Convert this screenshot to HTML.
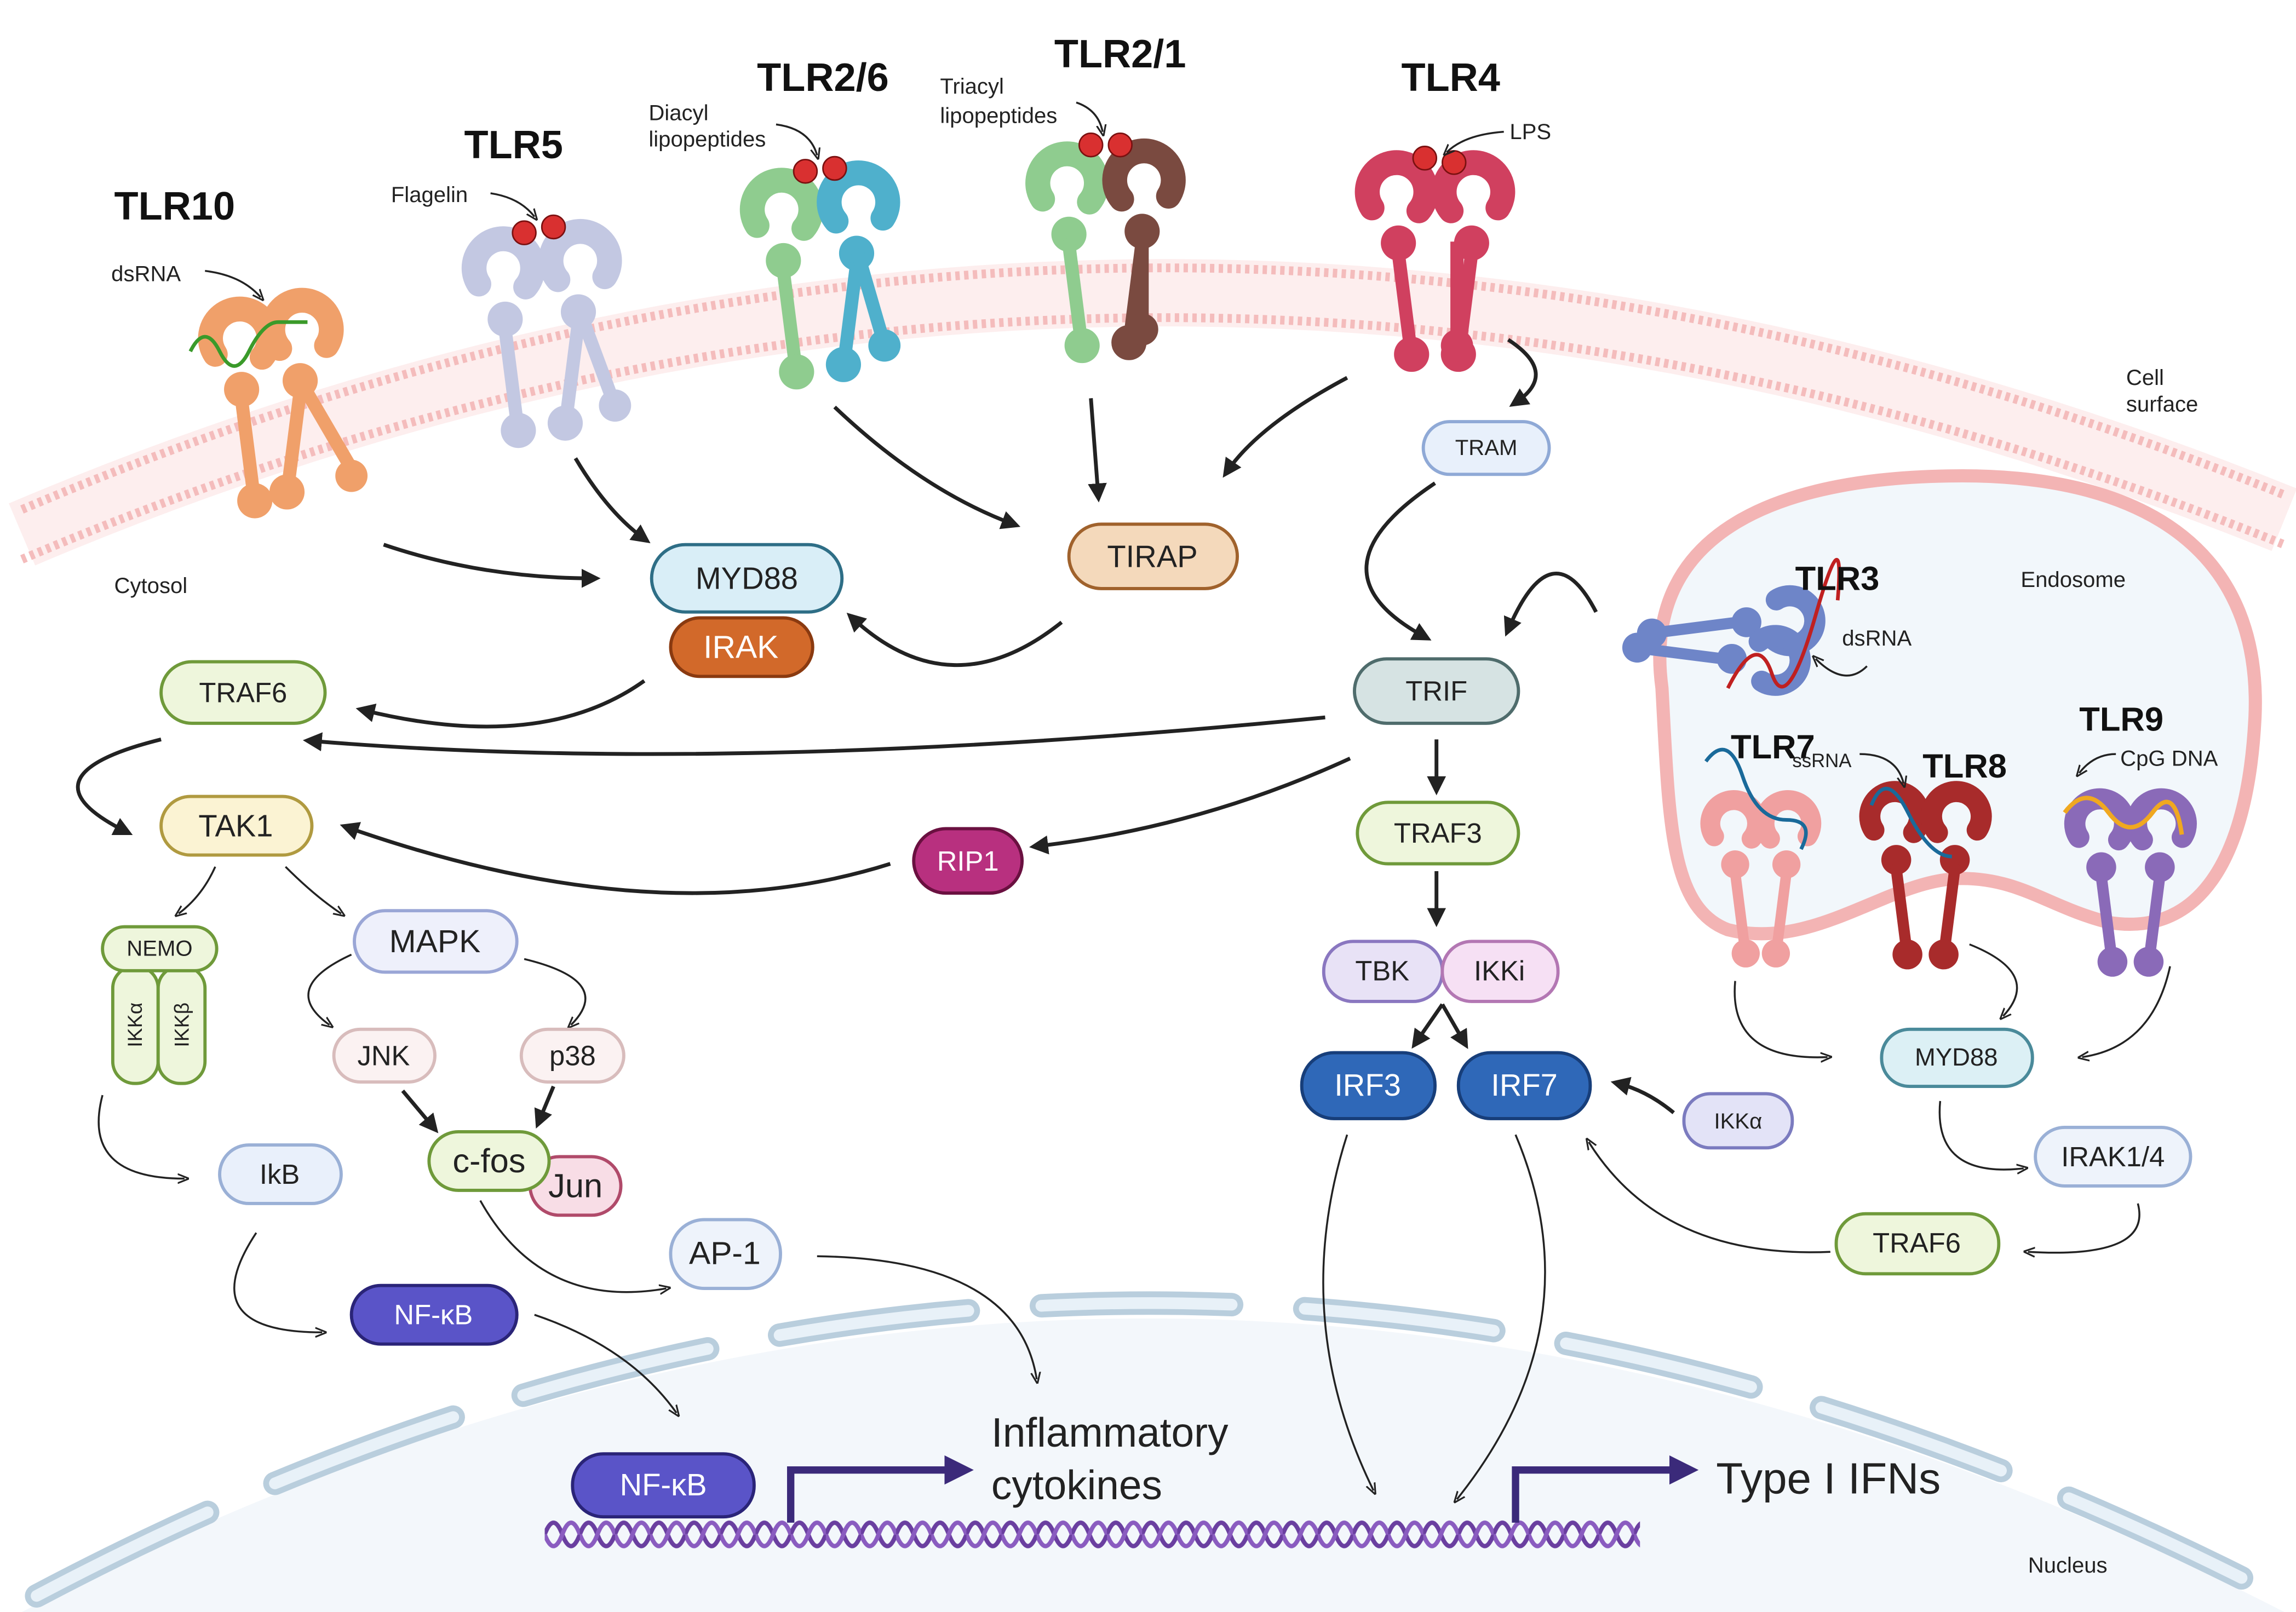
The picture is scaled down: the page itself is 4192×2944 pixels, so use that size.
<!DOCTYPE html>
<html><head><meta charset="utf-8"><style>
html,body{margin:0;padding:0;background:#fff;}
svg{display:block;}
text{font-family:"Liberation Sans",sans-serif;}
.n{font-size:19px;text-anchor:middle;dominant-baseline:central;fill:#222;}
.w{fill:#fff;}
.b{font-weight:bold;font-size:27px;fill:#111;}
.s{font-size:15px;fill:#222;}
.a{fill:none;stroke:#222;stroke-width:2.6;marker-end:url(#ah);}
.t{fill:none;stroke:#222;stroke-width:1.3;marker-end:url(#ah2);}
</style></head><body>
<svg width="4192" height="2944" viewBox="0 0 1568 1101" preserveAspectRatio="none" xmlns="http://www.w3.org/2000/svg">
<defs>
<marker id="ah" viewBox="0 0 10 10" refX="6" refY="5" markerWidth="5" markerHeight="5" orient="auto"><path d="M0,0 L10,5 L0,10 z" fill="#222"/></marker>
<marker id="ah2" viewBox="0 0 10 10" refX="6" refY="5" markerWidth="6" markerHeight="6" orient="auto"><path d="M0,1 L10,5 L0,9" fill="none" stroke="#222" stroke-width="1.5"/></marker>
<marker id="ah3" viewBox="0 0 10 10" refX="5" refY="5" markerWidth="4" markerHeight="4" orient="auto"><path d="M0,0 L10,5 L0,10 z" fill="#3b2a7a"/></marker>
<pattern id="dna" x="372" y="1036" width="24" height="24" patternUnits="userSpaceOnUse">
<path d="M0,12 Q6,-4 12,12 T24,12" fill="none" stroke="#6a3fa0" stroke-width="3"/>
<path d="M0,12 Q6,28 12,12 T24,12" fill="none" stroke="#8a5cc0" stroke-width="3"/>
</pattern>
<g id="mono">
<path d="M-18,14 A20,20 0 1,1 14,16" fill="none" stroke="currentColor" stroke-width="17" stroke-linecap="round"/>
<circle cx="0" cy="38" r="12" fill="currentColor"/>
<line x1="0" y1="45" x2="8" y2="108" stroke="currentColor" stroke-width="9" stroke-linecap="round"/>
<circle cx="9" cy="114" r="12" fill="currentColor"/>
</g>
</defs>
<rect width="1568" height="1101" fill="#fff"/>
<!-- nucleus -->
<path d="M15,1101 Q780,700 1560,1101 Z" fill="#f3f7fb"/>
<path d="M25,1090 Q780,690 1555,1090" fill="none" stroke="#b9cedd" stroke-width="16" stroke-dasharray="130 50" stroke-linecap="round"/>
<path d="M25,1090 Q780,690 1555,1090" fill="none" stroke="#e8f1f8" stroke-width="8" stroke-dasharray="130 50" stroke-linecap="round"/>
<!-- membrane -->
<path d="M15,365 Q780,40 1560,355" fill="none" stroke="#fdeeee" stroke-width="46"/>
<path d="M15,348 Q780,23 1560,338" fill="none" stroke="#f4bcbc" stroke-width="6" stroke-dasharray="3 3"/>
<path d="M15,382 Q780,57 1560,372" fill="none" stroke="#f4bcbc" stroke-width="6" stroke-dasharray="3 3"/>
<!-- endosome -->
<path d="M1135,470 C1120,360 1220,325 1340,325 C1470,325 1545,380 1540,490 C1535,590 1500,640 1440,630 C1400,620 1380,600 1340,600 C1290,600 1240,650 1180,635 C1140,620 1140,560 1135,470 Z" fill="#f2f7fb" stroke="#f3b4b4" stroke-width="9"/>
<!-- receptors -->
<g color="#f0a06a"><use href="#mono" x="165" y="228"/><use href="#mono" transform="translate(205,222) scale(-1,1)"/><line x1="205" y1="260" x2="240" y2="320" stroke="#f0a06a" stroke-width="9"/><circle cx="240" cy="325" r="11" fill="#f0a06a"/></g>
<path d="M130,240 q10,-20 20,0 t20,0 t20,-20 t20,0" fill="none" stroke="#3a9a2a" stroke-width="2.5"/>
<g color="#c3c8e2"><use href="#mono" x="345" y="180"/><use href="#mono" transform="translate(395,175) scale(-1,1)"/><line x1="395" y1="210" x2="418" y2="272" stroke="#c3c8e2" stroke-width="9"/><circle cx="420" cy="277" r="11" fill="#c3c8e2"/></g>
<g color="#8fcc8f"><use href="#mono" x="535" y="140"/></g><g color="#4fb0cc"><use href="#mono" transform="translate(585,135) scale(-1,1)"/><line x1="585" y1="170" x2="603" y2="232" stroke="#4fb0cc" stroke-width="9"/><circle cx="604" cy="236" r="11" fill="#4fb0cc"/></g>
<g color="#8fcc8f"><use href="#mono" x="730" y="122"/></g><g color="#7a4a40"><use href="#mono" transform="translate(780,120) scale(-1,1)"/><line x1="780" y1="155" x2="780" y2="220" stroke="#7a4a40" stroke-width="9"/><circle cx="780" cy="225" r="11" fill="#7a4a40"/></g>
<g color="#d0405f"><use href="#mono" x="955" y="128"/><use href="#mono" transform="translate(1005,128) scale(-1,1)"/><line x1="995" y1="165" x2="995" y2="230" stroke="#d0405f" stroke-width="9"/><circle cx="995" cy="236" r="11" fill="#d0405f"/></g>
<g color="#6e85c8"><use href="#mono" transform="translate(1225,425) rotate(90) scale(0.85)"/><use href="#mono" transform="translate(1215,450) rotate(90) scale(-0.85,0.85)"/></g>
<path d="M1180,470 q20,-40 30,-10 t30,-40 t15,-10" fill="none" stroke="#c02020" stroke-width="2.5"/>
<g color="#f0a0a0"><use href="#mono" transform="translate(1185,560) scale(0.8)"/><use href="#mono" transform="translate(1220,560) scale(-0.8,0.8)"/></g>
<g color="#a82b2b"><use href="#mono" transform="translate(1295,555) scale(0.85)"/><use href="#mono" transform="translate(1335,555) scale(-0.85,0.85)"/></g>
<g color="#8a6ab8"><use href="#mono" transform="translate(1435,560) scale(0.85)"/><use href="#mono" transform="translate(1475,560) scale(-0.85,0.85)"/></g>
<path d="M1165,520 q15,-20 25,10 t30,30 t10,20" fill="none" stroke="#1a6a9a" stroke-width="2.5"/>
<path d="M1278,550 q10,-25 25,5 t30,30" fill="none" stroke="#1a6a9a" stroke-width="2.5"/>
<path d="M1410,555 q15,-20 30,0 t30,0 t20,15" fill="none" stroke="#f0a820" stroke-width="3"/>
<g fill="#d93030" stroke="#7a1010" stroke-width="1"><circle cx="358" cy="159" r="8"/><circle cx="378" cy="155" r="8"/><circle cx="550" cy="117" r="8"/><circle cx="570" cy="115" r="8"/><circle cx="745" cy="99" r="8"/><circle cx="765" cy="99" r="8"/><circle cx="973" cy="108" r="8"/><circle cx="993" cy="111" r="8"/></g>
<!-- labels -->
<text class="b" x="78" y="150">TLR10</text><text class="b" x="317" y="108">TLR5</text><text class="b" x="517" y="62">TLR2/6</text><text class="b" x="720" y="46">TLR2/1</text><text class="b" x="957" y="62">TLR4</text>
<text class="b" x="1226" y="403" style="font-size:23px">TLR3</text><text class="b" x="1182" y="518" style="font-size:23px">TLR7</text><text class="b" x="1313" y="531" style="font-size:23px">TLR8</text><text class="b" x="1420" y="499" style="font-size:23px">TLR9</text>
<text class="s" x="76" y="192">dsRNA</text><text class="s" x="267" y="138">Flagelin</text><text class="s" x="443" y="82">Diacyl</text><text class="s" x="443" y="100">lipopeptides</text><text class="s" x="642" y="64">Triacyl</text><text class="s" x="642" y="84">lipopeptides</text><text class="s" x="1031" y="95">LPS</text>
<text class="s" x="1452" y="263">Cell</text><text class="s" x="1452" y="281">surface</text><text class="s" x="78" y="405">Cytosol</text><text class="s" x="1380" y="401">Endosome</text><text class="s" x="1258" y="441">dsRNA</text><text class="s" x="1224" y="524" style="font-size:13px">ssRNA</text><text class="s" x="1448" y="523">CpG DNA</text><text class="s" x="1385" y="1074">Nucleus</text>
<text x="677" y="988" style="font-size:28px" fill="#222">Inflammatory</text><text x="677" y="1024" style="font-size:28px" fill="#222">cytokines</text>
<text x="1172" y="1020" style="font-size:30px" fill="#222">Type I IFNs</text>
<!-- pointer arrows -->
<path class="t" d="M140,185 Q165,188 178,203"/><path class="t" d="M335,132 Q355,135 365,148"/><path class="t" d="M530,85 Q553,88 558,106"/><path class="t" d="M735,70 Q750,75 753,90"/><path class="t" d="M1027,90 Q1000,92 988,104"/><path class="t" d="M1275,455 Q1260,470 1240,450"/><path class="t" d="M1270,515 Q1295,515 1300,535"/><path class="t" d="M1445,515 Q1430,515 1420,528"/>
<!-- DNA -->
<rect x="372" y="1036" width="748" height="24" fill="url(#dna)"/>
<path d="M540,1040 V1004 H655" fill="none" stroke="#3b2a7a" stroke-width="5" marker-end="url(#ah3)"/>
<path d="M1035,1040 V1004 H1150" fill="none" stroke="#3b2a7a" stroke-width="5" marker-end="url(#ah3)"/>
<!-- arrows -->
<path class="a" d="M262,372 Q330,395 405,395"/><path class="a" d="M393,313 Q415,350 440,368"/><path class="a" d="M570,278 Q630,335 692,358"/><path class="a" d="M745,272 L750,338"/><path class="a" d="M920,258 Q860,290 838,322"/><path class="a" d="M1030,232 Q1065,255 1035,275"/>
<path class="a" d="M725,425 Q650,485 582,422"/><path class="a" d="M440,465 Q370,515 248,485"/><path class="a" d="M980,330 Q890,390 973,435"/><path class="a" d="M1090,418 Q1060,360 1030,430"/>
<path class="a" d="M905,490 Q500,530 212,506" stroke-width="3.5"/><path class="a" d="M922,518 Q820,565 708,578"/><path class="a" d="M608,590 Q450,640 237,565"/><path class="a" d="M110,505 Q10,530 86,568"/>
<path class="a" d="M981,505 L981,538"/><path class="a" d="M981,595 L981,628"/><path class="a" d="M985,686 L967,712"/><path class="a" d="M985,686 L1000,712"/>
<path class="t" d="M147,592 Q138,612 122,624"/><path class="t" d="M195,592 Q215,612 233,624"/><path class="t" d="M240,652 Q190,675 225,700"/><path class="t" d="M358,655 Q420,670 390,700"/>
<path class="a" d="M275,745 L296,770"/><path class="a" d="M378,742 L368,766"/>
<path class="t" d="M70,748 Q55,805 126,805"/><path class="t" d="M175,842 Q130,910 220,910"/><path class="t" d="M328,820 Q370,895 455,880"/><path class="t" d="M365,898 Q430,920 462,965"/><path class="t" d="M558,858 Q695,860 708,942"/>
<path class="t" d="M920,775 Q880,900 938,1018"/><path class="t" d="M1035,775 Q1090,905 995,1024"/>
<path class="a" d="M1143,760 Q1125,745 1105,740"/><path class="t" d="M1250,855 Q1135,860 1085,780"/>
<path class="t" d="M1185,670 Q1180,725 1248,722"/><path class="t" d="M1345,645 Q1395,665 1368,694"/><path class="t" d="M1482,660 Q1470,715 1422,722"/><path class="t" d="M1325,752 Q1320,805 1382,798"/><path class="t" d="M1460,822 Q1470,860 1385,855"/>
<!-- nodes -->
<g stroke-width="2.2">
<rect x="445" y="372" width="130" height="46" rx="23" fill="#d9eef7" stroke="#2e6e86"/>
<rect x="458" y="422" width="97" height="40" rx="20" fill="#d2692a" stroke="#8a3a10"/>
<rect x="730" y="358" width="115" height="44" rx="22" fill="#f4d9bb" stroke="#a0622c"/>
<rect x="972" y="288" width="86" height="36" rx="18" fill="#e8f0fb" stroke="#8fa9d6"/>
<rect x="925" y="450" width="112" height="44" rx="22" fill="#d6e3e3" stroke="#4f6c6c"/>
<rect x="110" y="452" width="112" height="42" rx="21" fill="#eef6dc" stroke="#6f9a3a"/>
<rect x="110" y="544" width="103" height="40" rx="20" fill="#fbf3d3" stroke="#b09a40"/>
<rect x="624" y="566" width="74" height="44" rx="22" fill="#b8307f" stroke="#6a1040"/>
<rect x="927" y="548" width="110" height="42" rx="21" fill="#eef6dc" stroke="#6f9a3a"/>
<rect x="904" y="643" width="81" height="41" rx="20" fill="#e8e2f6" stroke="#8a77c0"/>
<rect x="985" y="643" width="79" height="41" rx="20" fill="#f6e0f4" stroke="#b377b3"/>
<rect x="889" y="719" width="91" height="45" rx="22" fill="#2f68b8" stroke="#173e7a"/>
<rect x="996" y="719" width="90" height="45" rx="22" fill="#2f68b8" stroke="#173e7a"/>
<rect x="1150" y="747" width="74" height="37" rx="18" fill="#e3e3f7" stroke="#7b7bbf"/>
<rect x="1285" y="703" width="103" height="39" rx="19" fill="#dcf0f5" stroke="#4a8a9a"/>
<rect x="1390" y="770" width="106" height="40" rx="20" fill="#eef3fb" stroke="#9ab0d6"/>
<rect x="1254" y="829" width="111" height="41" rx="20" fill="#eef6dc" stroke="#6f9a3a"/>
<rect x="77" y="660" width="31" height="80" rx="15" fill="#eef6dc" stroke="#6f9a3a"/>
<rect x="108" y="660" width="32" height="80" rx="15" fill="#eef6dc" stroke="#6f9a3a"/>
<rect x="70" y="633" width="78" height="30" rx="15" fill="#eef6dc" stroke="#6f9a3a"/>
<rect x="242" y="622" width="111" height="42" rx="21" fill="#eef0fb" stroke="#9aa6d6"/>
<rect x="228" y="703" width="69" height="36" rx="18" fill="#fbf2f2" stroke="#d8bcbc"/>
<rect x="356" y="703" width="70" height="36" rx="18" fill="#fbf2f2" stroke="#d8bcbc"/>
<rect x="362" y="790" width="62" height="40" rx="20" fill="#f8dde6" stroke="#b04a6a"/>
<rect x="293" y="773" width="82" height="40" rx="20" fill="#eef6dc" stroke="#6f9a3a"/>
<rect x="150" y="782" width="83" height="40" rx="20" fill="#e9f0fb" stroke="#9ab0d6"/>
<rect x="458" y="833" width="75" height="47" rx="23" fill="#eef3fb" stroke="#9ab0d6"/>
<rect x="240" y="878" width="113" height="40" rx="20" fill="#5a54c8" stroke="#2a2478"/>
<rect x="391" y="993" width="124" height="43" rx="21" fill="#5a54c8" stroke="#2a2478"/>
</g>
<text class="n" x="510" y="395" style="font-size:21px">MYD88</text><text class="n w" x="506" y="442" style="font-size:22px">IRAK</text>
<text class="n" x="787" y="380" style="font-size:21px">TIRAP</text><text class="n" x="1015" y="306" style="font-size:15px">TRAM</text>
<text class="n" x="981" y="472">TRIF</text><text class="n" x="166" y="473">TRAF6</text><text class="n" x="161" y="564" style="font-size:21px">TAK1</text>
<text class="n w" x="661" y="588">RIP1</text><text class="n" x="982" y="569">TRAF3</text><text class="n" x="944" y="663">TBK</text><text class="n" x="1024" y="663">IKKi</text>
<text class="n w" x="934" y="741" style="font-size:21px">IRF3</text><text class="n w" x="1041" y="741" style="font-size:21px">IRF7</text>
<text class="n" x="1187" y="766" style="font-size:15px">IKKα</text><text class="n" x="1336" y="722" style="font-size:17px">MYD88</text><text class="n" x="1443" y="790">IRAK1/4</text><text class="n" x="1309" y="849">TRAF6</text>
<text class="n" x="109" y="648" style="font-size:15px">NEMO</text>
<text class="n" x="0" y="0" style="font-size:14px" transform="translate(92,700) rotate(-90)">IKKα</text><text class="n" x="0" y="0" style="font-size:14px" transform="translate(124,700) rotate(-90)">IKKβ</text>
<text class="n" x="297" y="643" style="font-size:22px">MAPK</text><text class="n" x="262" y="721">JNK</text><text class="n" x="391" y="721">p38</text>
<text class="n" x="393" y="810" style="font-size:23px">Jun</text><text class="n" x="334" y="793" style="font-size:23px">c-fos</text>
<text class="n" x="191" y="802">IkB</text><text class="n" x="495" y="856" style="font-size:22px">AP-1</text>
<text class="n w" x="296" y="898">NF-κB</text><text class="n w" x="453" y="1014" style="font-size:21px">NF-κB</text>
</svg>
</body></html>
